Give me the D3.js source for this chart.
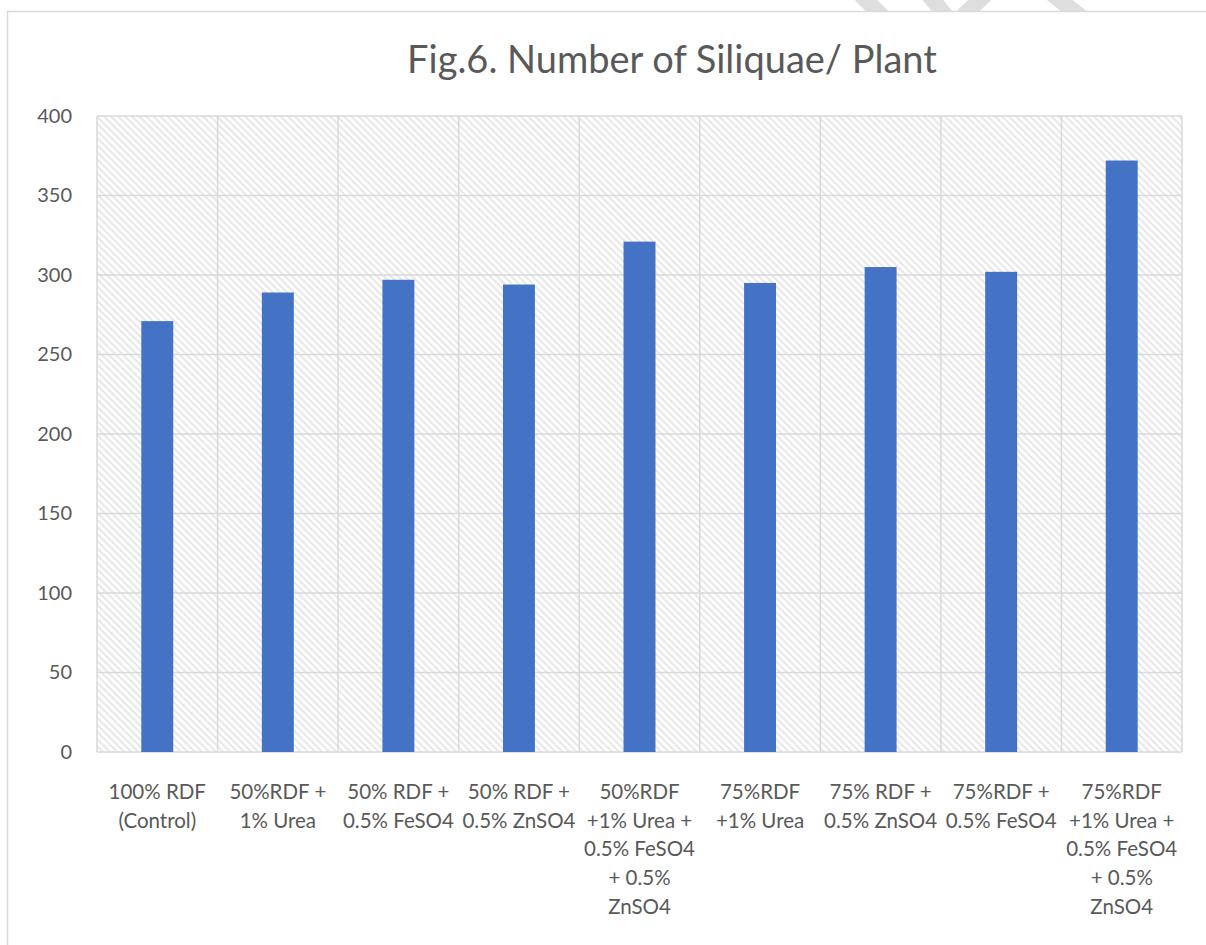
<!DOCTYPE html>
<html>
<head>
<meta charset="utf-8">
<script src="https://cdn.jsdelivr.net/npm/d3@7"></script>
<style>
  body { margin: 0; background: #fff; }
  svg { display: block; }
  text { font-family: Lato, "Open Sans", sans-serif; fill: #595959; }
</style>
</head>
<body>
<svg id="chart" width="1206" height="945"></svg>
<script>
// treatment names, one entry per line of the wrapped axis label
var categories = [
  ["100% RDF", "(Control)"],
  ["50%RDF +", "1% Urea"],
  ["50% RDF +", "0.5% FeSO4"],
  ["50% RDF +", "0.5% ZnSO4"],
  ["50%RDF", "+1% Urea +", "0.5% FeSO4", "+ 0.5%", "ZnSO4"],
  ["75%RDF", "+1% Urea"],
  ["75% RDF +", "0.5% ZnSO4"],
  ["75%RDF +", "0.5% FeSO4"],
  ["75%RDF", "+1% Urea +", "0.5% FeSO4", "+ 0.5%", "ZnSO4"]
];
var siliquae = [271, 289, 297, 294, 321, 295, 305, 302, 372];
var yTicks = [0, 50, 100, 150, 200, 250, 300, 350, 400];
var title = "Fig.6. Number of Siliquae/ Plant";

var svg = d3.select("#chart");
var plotL = 97, plotR = 1182, plotT = 116, plotB = 752;

// faint watermark strokes peeking above the chart frame
var marks = [[860, -6, 882, 16], [928, -6, 946, 16], [986, -6, 963, 16], [1052, -6, 1080, 16]];
svg.selectAll(".wm").data(marks).enter().append("line")
  .attr("x1", function(d) { return d[0]; }).attr("y1", function(d) { return d[1]; })
  .attr("x2", function(d) { return d[2]; }).attr("y2", function(d) { return d[3]; })
  .attr("stroke", "#dedede").attr("stroke-width", 16).attr("stroke-linecap", "round");

// chart frame
svg.append("rect")
  .attr("x", 7.5).attr("y", 11.5).attr("width", 1400).attr("height", 1000)
  .attr("fill", "#fff").attr("stroke", "#d9d9d9").attr("stroke-width", 1.5);

// hatch fill of the plot area
var defs = svg.append("defs");
var pat = defs.append("pattern")
  .attr("id", "hatch").attr("patternUnits", "userSpaceOnUse")
  .attr("width", 5).attr("height", 5)
  .attr("patternTransform", "rotate(-45)");
pat.append("rect").attr("width", 5).attr("height", 5).attr("fill", "#fff");
pat.append("line").attr("x1", 1.2).attr("y1", 0).attr("x2", 1.2).attr("y2", 5)
  .attr("stroke", "#e4e4e4").attr("stroke-width", 1.8);

var x = d3.scaleBand()
  .domain(d3.range(categories.length))
  .range([plotL, plotR])
  .paddingInner(0.735)
  .paddingOuter(0.3675);

var y = d3.scaleLinear().domain([0, 400]).range([plotB, plotT]);

svg.append("rect")
  .attr("x", plotL).attr("y", plotT)
  .attr("width", plotR - plotL).attr("height", plotB - plotT)
  .attr("fill", "url(#hatch)");

// horizontal gridlines
svg.selectAll(".hgrid").data(yTicks).enter().append("line")
  .attr("x1", plotL).attr("x2", plotR)
  .attr("y1", function(d) { return y(d); }).attr("y2", function(d) { return y(d); })
  .attr("stroke", "#d9d9d9").attr("stroke-width", 1.5);

// vertical gridlines at category boundaries
var step = x.step();
var bounds = d3.range(categories.length).map(function(i) {
  return x(i) + x.bandwidth() / 2 - step / 2;
});
bounds.push(plotR);
svg.selectAll(".vgrid").data(bounds).enter().append("line")
  .attr("x1", function(d) { return d; }).attr("x2", function(d) { return d; })
  .attr("y1", plotT).attr("y2", plotB)
  .attr("stroke", "#d9d9d9").attr("stroke-width", 1.5);

// bars
svg.selectAll(".bar").data(siliquae).enter().append("rect")
  .attr("x", function(d, i) { return x(i); })
  .attr("y", function(d) { return y(d); })
  .attr("width", x.bandwidth())
  .attr("height", function(d) { return plotB - y(d); })
  .attr("fill", "#4472c4");

// y axis labels
var yAxis = d3.axisLeft(y).tickValues(yTicks).tickSize(0).tickPadding(25);
var gy = svg.append("g").attr("transform", "translate(" + plotL + ",0)").call(yAxis);
gy.select(".domain").remove();
gy.selectAll("text").style("font-size", "20px").style("font-family", "Lato, sans-serif").attr("fill", "#595959");

// x axis labels
var gx = svg.append("g");
categories.forEach(function(lines, i) {
  var t = gx.append("text")
    .attr("text-anchor", "middle")
    .attr("x", x(i) + x.bandwidth() / 2)
    .attr("y", 799)
    .style("font-size", "20.5px");
  lines.forEach(function(line, j) {
    t.append("tspan")
      .attr("x", x(i) + x.bandwidth() / 2)
      .attr("dy", j === 0 ? 0 : 28.7)
      .text(line);
  });
});

// title
svg.append("text")
  .attr("x", 672).attr("y", 73)
  .attr("text-anchor", "middle")
  .style("font-size", "38px")
  .text(title);
</script>
</body>
</html>
